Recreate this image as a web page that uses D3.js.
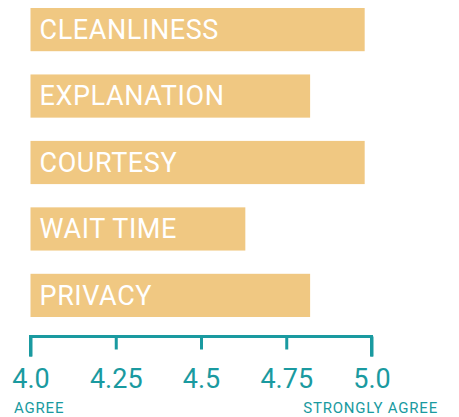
<!DOCTYPE html>
<html>
<head>
<meta charset="utf-8">
<script src="https://cdn.jsdelivr.net/npm/d3@7"></script>
<style>
  body { margin: 0; background: #fff; }
</style>
</head>
<body>
<div id="chart"></div>
<script>
// chart data
var categories = ["CLEANLINESS", "EXPLANATION", "COURTESY", "WAIT TIME", "PRIVACY"]
var scores = [4.98, 4.82, 4.98, 4.63, 4.82]
var tickValues = [4.0, 4.25, 4.5, 4.75, 5.0]
var tickLabels = ["4.0", "4.25", "4.5", "4.75", "5.0"]
var endLabels = ["AGREE", "STRONGLY AGREE"]

var width = 459
var height = 417
var barColor = "#f0c882"
var teal = "#1a9aa0"

var svg = d3.select("#chart")
    .append("svg")
    .attr("width", width)
    .attr("height", height)

// scales
var x = d3.scaleLinear()
    .domain([4, 5])
    .range([30.5, 371.5])

var y = d3.scaleBand()
    .domain(categories)
    .range([8, 317])
    .paddingInner(0.35)
    .paddingOuter(0)

// bars
var bars = svg.append("g")
    .selectAll("g")
    .data(categories)
    .enter()
    .append("g")

bars.append("rect")
    .attr("x", x(4))
    .attr("y", function (d) { return y(d) })
    .attr("width", function (d, i) { return x(scores[i]) - x(4) })
    .attr("height", y.bandwidth())
    .style("fill", barColor)

bars.append("text")
    .attr("x", x(4) + 9)
    .attr("y", function (d) { return y(d) + 31 })
    .text(function (d) { return d })
    .style("fill", "#fff")
    .style("font-family", "Roboto, sans-serif")
    .style("font-size", "27px")
    .style("letter-spacing", "0.6px")

// axis
var axis = d3.axisBottom(x)
    .tickValues(tickValues)
    .tickSize(0)
    .tickFormat(function (d, i) { return tickLabels[i] })

var axisG = svg.append("g")
    .attr("transform", "translate(0,336.5)")
    .call(axis)

axisG.select(".domain")
    .attr("d", "M" + x(4) + ",20V0H" + x(5) + "V20")
    .attr("stroke", teal)
    .attr("stroke-width", 3)
    .attr("fill", "none")

axisG.selectAll(".tick line")
    .attr("y2", function (d) { return (d === 4 || d === 5) ? 20 : 13 })
    .attr("stroke", teal)
    .attr("stroke-width", 3)

axisG.selectAll(".tick text")
    .attr("y", 51)
    .attr("dy", 0)
    .style("fill", teal)
    .style("font-family", "Roboto, sans-serif")
    .style("font-size", "27px")

// end labels
svg.append("text")
    .attr("x", 14)
    .attr("y", 413)
    .text(endLabels[0])
    .style("fill", teal)
    .style("font-family", "Roboto, sans-serif")
    .style("font-size", "15px")
    .style("letter-spacing", "0.8px")

svg.append("text")
    .attr("x", 438)
    .attr("y", 413)
    .attr("text-anchor", "end")
    .text(endLabels[1])
    .style("fill", teal)
    .style("font-family", "Roboto, sans-serif")
    .style("font-size", "15px")
    .style("letter-spacing", "0.8px")
</script>
</body>
</html>
